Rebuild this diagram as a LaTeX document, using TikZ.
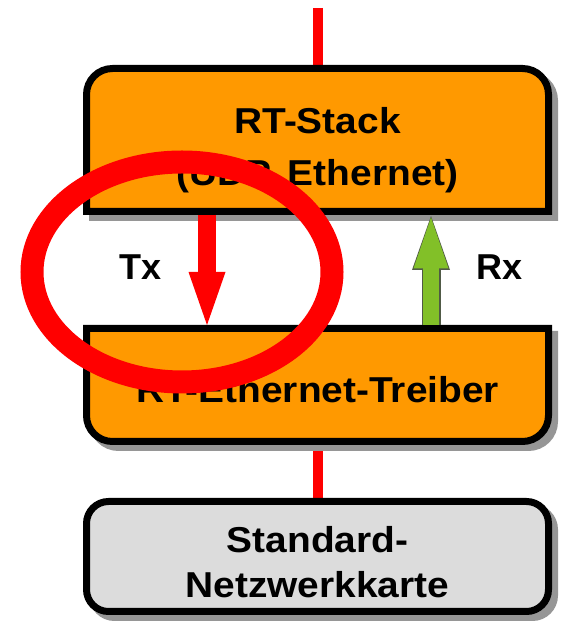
\documentclass[tikz,border=0pt]{standalone}
\usepackage{fontspec}
\setmainfont{Liberation Sans}
\newfontfamily\boxfont[FakeStretch=1.08]{Liberation Sans}
\usetikzlibrary{arrows.meta,positioning}

\definecolor{rtorange}{RGB}{255,153,0}
\definecolor{nicgray}{RGB}{220,220,220}
\definecolor{shadowgray}{RGB}{150,150,150}
\definecolor{rxgreen}{RGB}{130,192,40}
\definecolor{rxedge}{RGB}{80,90,70}

\begin{document}
\begin{tikzpicture}[x=1pt, y=1pt,
    layer/.style={minimum width=462pt, inner sep=0pt, outer sep=0pt},
    boxedge/.style={draw=black, line width=7pt},
    shadowed/.style={preaction={fill=shadowgray, draw=shadowgray, line width=7pt,
        transform canvas={shift={(6pt,-6pt)}}}},
    boxtext/.style={align=center, inner sep=0pt},
    wire/.style={draw=red, line width=10pt},
    txarrow/.style={draw=red, line width=18pt,
        -{Triangle[width=37pt, length=53pt, line width=0pt]}},
    rxline/.style={draw=rxedge, line width=19pt,
        -{Triangle[width=38pt, length=54pt, line width=0pt]}},
    rxarrow/.style={draw=rxgreen, line width=16.5pt,
        -{Triangle[width=35pt, length=51pt, line width=0pt]}}]
    \useasboundingbox (0,0) rectangle (560,621);

    % layers
    \node[layer, minimum height=143pt] (stack) at (317.5,481) {};
    \node[layer, minimum height=113pt] (driver) at (317.5,236) {};
    \node[layer, minimum height=110pt, below=60pt of driver] (nic) {};
    \coordinate (uplink) at (317.5,613);

    % red wires
    \draw[wire] (uplink) -- (stack.north);
    \draw[wire] (driver.south) -- (nic.north);

    % RT-Stack
    \path[shadowed, fill=rtorange, boxedge] (stack.south west)
        -- ([yshift=-26pt]stack.north west) arc[start angle=180, end angle=90, radius=26pt]
        -- ([xshift=-26pt]stack.north east) arc[start angle=90, end angle=0, radius=26pt]
        -- (stack.south east) -- cycle;

    % RT-Ethernet-Treiber
    \path[shadowed, fill=rtorange, boxedge] (driver.north west)
        -- ([yshift=26pt]driver.south west) arc[start angle=180, end angle=270, radius=26pt]
        -- ([xshift=-26pt]driver.south east) arc[start angle=270, end angle=360, radius=26pt]
        -- (driver.north east) -- cycle;

    % Standard-Netzwerkkarte
    \path[shadowed, fill=nicgray, boxedge, rounded corners=22pt]
        (nic.south west) rectangle (nic.north east);

    % Tx / Rx
    \draw[txarrow] ([shift={(120.5,-3.5)}]stack.south west) -- ([shift={(120.5,3.5)}]driver.north west);
    \draw[rxline] ([shift={(344.5,3.5)}]driver.north west) -- ([shift={(344.5,-4.5)}]stack.south west);
    \draw[rxarrow] ([shift={(344.5,3.5)}]driver.north west) -- ([shift={(344.5,-6)}]stack.south west);
    \node[font=\fontsize{36}{43}\selectfont\bfseries] (tx) at (141,354) {Tx};
    \node[font=\fontsize{36}{43}\selectfont\bfseries] (rx) at (500,354) {Rx};

    % texts
    \node[boxtext, font=\boxfont\fontsize{36}{52}\selectfont\bfseries] (stacktext) at (317.5,471)
        {RT-Stack\\(UDP, Ethernet)};
    \node[boxtext, font=\boxfont\fontsize{36}{43}\selectfont\bfseries] (drivertext) at (317.5,231)
        {RT-Ethernet-Treiber};
    \node[boxtext, font=\boxfont\fontsize{36}{45}\selectfont\bfseries] (nictext) at (317.5,58.5)
        {Standard-\\Netzwerkkarte};

    % red ellipse
    \draw[red, line width=23pt] (182,349) ellipse [x radius=150, y radius=110];
\end{tikzpicture}
\end{document}
